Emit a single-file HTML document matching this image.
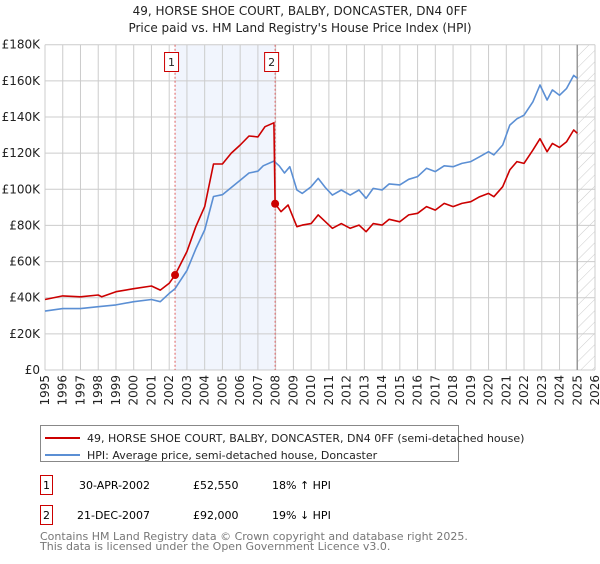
<!DOCTYPE html>
<html><head><meta charset="utf-8"><style>
body{margin:0;background:#fff;font-family:"DejaVu Sans","Liberation Sans",sans-serif;}
svg text{font-family:"DejaVu Sans","Liberation Sans",sans-serif;}
</style></head><body>
<svg id="chart" width="600" height="560" viewBox="0 0 600 560">
<text x="300" y="15" text-anchor="middle" font-size="12" fill="#222">49, HORSE SHOE COURT, BALBY, DONCASTER, DN4 0FF</text>
<text x="300" y="32" text-anchor="middle" font-size="12" fill="#222">Price paid vs. HM Land Registry's House Price Index (HPI)</text>
<g id="plot"></g>
<g>
<rect x="40.5" y="425.5" width="418" height="36" fill="#fff" stroke="#888"/>
<line x1="45" y1="438" x2="80" y2="438" stroke="#cc0000" stroke-width="2"/>
<text x="87" y="442" font-size="11" fill="#222">49, HORSE SHOE COURT, BALBY, DONCASTER, DN4 0FF (semi-detached house)</text>
<line x1="45" y1="455" x2="80" y2="455" stroke="#5b8fd4" stroke-width="2"/>
<text x="87" y="459" font-size="11" fill="#222">HPI: Average price, semi-detached house, Doncaster</text>
</g>
<g>
<rect x="40.5" y="475.5" width="12" height="19" fill="#fff" stroke="#cc0000"/>
<text x="46.5" y="489" text-anchor="middle" font-size="11">1</text>
<text x="79" y="489" font-size="11">30-APR-2002</text>
<text x="193" y="489" font-size="11">£52,550</text>
<text x="272" y="489" font-size="11">18% ↑ HPI</text>
<rect x="40.5" y="505.5" width="12" height="19" fill="#fff" stroke="#cc0000"/>
<text x="46.5" y="519" text-anchor="middle" font-size="11">2</text>
<text x="77" y="519" font-size="11">21-DEC-2007</text>
<text x="193" y="519" font-size="11">£92,000</text>
<text x="272" y="519" font-size="11">19% ↓ HPI</text>
</g>
<text x="40" y="540" font-size="11" fill="#777">Contains HM Land Registry data © Crown copyright and database right 2025.</text>
<text x="40" y="550" font-size="11" fill="#777">This data is licensed under the Open Government Licence v3.0.</text>
</svg>
<script>
const yTicks=[0,20,40,60,80,100,120,140,160,180];
const yTickLabels=["£0","£20K","£40K","£60K","£80K","£100K","£120K","£140K","£160K","£180K"];
const xYears=[1995,1996,1997,1998,1999,2000,2001,2002,2003,2004,2005,2006,2007,2008,2009,2010,2011,2012,2013,2014,2015,2016,2017,2018,2019,2020,2021,2022,2023,2024,2025,2026];
const hpiT=[1995,1996,1997,1998,1999,2000,2001,2001.5,2002,2002.33,2003,2003.5,2004,2004.5,2005,2005.5,2006,2006.5,2007,2007.3,2007.9,2008.2,2008.5,2008.8,2009.2,2009.5,2010,2010.4,2010.8,2011.2,2011.7,2012.2,2012.7,2013.1,2013.5,2014,2014.4,2015,2015.5,2016,2016.5,2017,2017.5,2018,2018.5,2019,2019.5,2020,2020.3,2020.8,2021.2,2021.6,2022,2022.5,2022.9,2023.3,2023.6,2024,2024.4,2024.8,2025];
const hpiV=[32.6,34,34,35,36,37.8,39,37.8,42.4,45,55,67,77.5,96,97,101,105,109,110,113,115.6,113,109,112.5,99.6,97.7,101.4,106,101,96.8,99.6,96.8,99.6,95,100.5,99.6,103,102.4,105.5,107,111.6,109.8,113,112.5,114.3,115.3,118,120.8,119,124.5,135.5,139,141,148.4,157.7,149.4,155,152,155.8,163,161.4];
const propT=[1995,1996,1997,1998,1998.2,1999,2000,2001,2001.5,2002,2002.33,2003,2003.5,2004,2004.5,2005,2005.5,2006,2006.5,2007,2007.4,2007.9,2007.97,2008.3,2008.7,2009.2,2009.5,2010,2010.4,2011.2,2011.7,2012.2,2012.7,2013.1,2013.5,2014,2014.4,2015,2015.5,2016,2016.5,2017,2017.5,2018,2018.5,2019,2019.5,2020,2020.3,2020.8,2021.2,2021.6,2022,2022.5,2022.9,2023.3,2023.6,2024,2024.4,2024.8,2025];
const propV=[39,41,40.5,41.5,40.5,43.3,45,46.5,44.2,48,52.5,65.5,79.3,90.4,114,114,120,124.5,129.5,129,134.6,136.8,92,87.6,91.3,79.3,80.2,81,85.8,78.4,81,78.4,80.2,76.5,81,80.2,83.4,82,85.8,86.7,90.4,88.5,92.2,90.4,92.2,93.1,95.9,97.7,95.9,101.4,110.7,115.3,114.3,121.7,128,120.8,125.4,123.2,126.3,132.8,131];
const saleT=[2002.33,2007.97];
const saleV=[52.55,92];
const saleLabels=["1","2"];

const L=45,R=595,T=44.7,B=370,Y0=1995,Y1=2026,VMAX=180;
const sx=t=>L+(t-Y0)/(Y1-Y0)*(R-L);
const sy=v=>B-v/VMAX*(B-T);
const NS="http://www.w3.org/2000/svg";
const g=document.getElementById('plot');
function mk(tag,attrs,parent){const e=document.createElementNS(NS,tag);for(const k in attrs)e.setAttribute(k,attrs[k]);(parent||g).appendChild(e);return e;}
let band=mk('rect',{x:sx(saleT[0]),y:T,width:sx(saleT[1])-sx(saleT[0]),height:B-T,fill:'#eef3fc',opacity:0.8});


const defs=mk('defs',{});
const pat=mk('pattern',{id:'hatch',width:8,height:8,patternUnits:'userSpaceOnUse',patternTransform:'rotate(45)'},defs);
mk('line',{x1:0,y1:0,x2:0,y2:8,stroke:'#ccc','stroke-width':1},pat);
let hatch=mk('rect',{x:sx(2025),y:T,width:R-sx(2025),height:B-T,fill:'url(#hatch)'});


yTicks.forEach((v,i)=>{
 let l=mk('line',{x1:L,x2:R,y1:sy(v),y2:sy(v),stroke:'#ccc','stroke-width':1});
 
 
 let t=mk('text',{x:L-5,y:sy(v)+4,'text-anchor':'end','font-size':12,fill:'#222'});
 t.textContent=yTickLabels[i];
 
 
});
xYears.forEach(y=>{
 let l=mk('line',{x1:sx(y),x2:sx(y),y1:T,y2:B,stroke:'#ccc','stroke-width':1});
 
 
 let t=mk('text',{x:0,y:0,'text-anchor':'end','font-size':12,fill:'#222',transform:`translate(${sx(y)+4},${B+5}) rotate(-90)`});
 t.textContent=y;
 
 
});
let nowl=mk('line',{x1:sx(2025),x2:sx(2025),y1:T,y2:B,stroke:'#999','stroke-width':1.5});


saleT.forEach((t,i)=>{
 let l=mk('line',{x1:sx(t),x2:sx(t),y1:T,y2:B,stroke:'#e06060','stroke-width':1,'stroke-dasharray':'2,2'});
 
 
 let r=mk('rect',{x:sx(t)-10.5,y:52.5,width:14,height:19,fill:'#fff',stroke:'#cc0000'});
 
 
 let tx=mk('text',{x:sx(t)-3.5,y:66,'text-anchor':'middle','font-size':11,fill:'#222'});
 tx.textContent=saleLabels[i];
 
 
});
function path(T2,V,color,name){
 const d=T2.map((t,i)=>(i?'L':'M')+sx(t).toFixed(1)+','+sy(V[i]).toFixed(1)).join('');
 let p=mk('path',{d:d,fill:'none',stroke:color,'stroke-width':1.6,'stroke-linejoin':'round'});
 
 
}
path(hpiT,hpiV,'#5b8fd4','hpi-line');
path(propT,propV,'#cc0000','property-price-line');
saleT.forEach((t,i)=>{
 let c=mk('circle',{cx:sx(t),cy:sy(saleV[i]),r:4,fill:'#cc0000'});
 
 
});
</script>
</body></html>
